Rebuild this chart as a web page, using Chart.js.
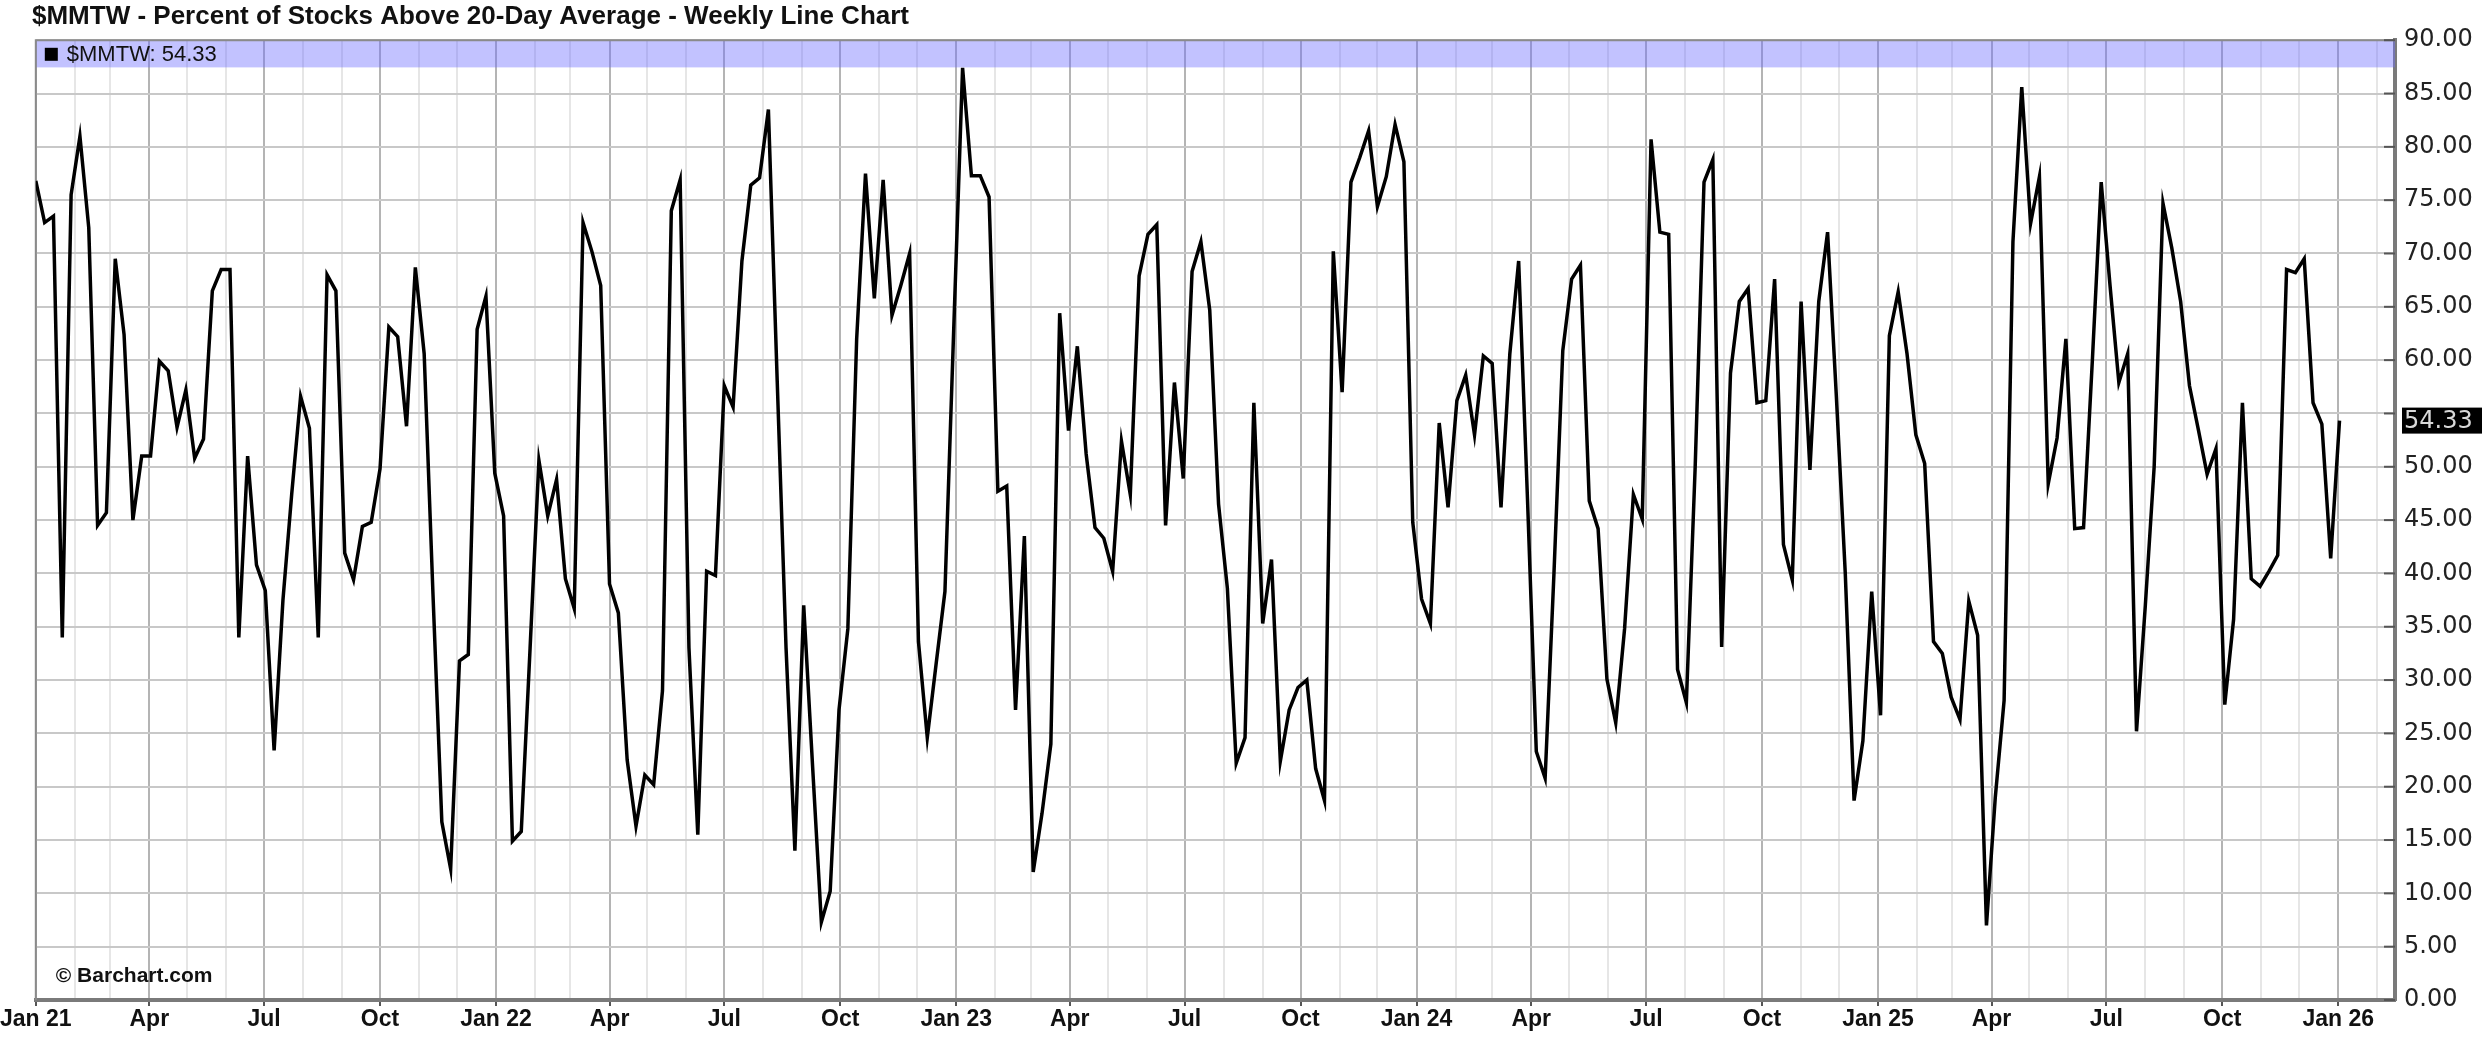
<!DOCTYPE html>
<html>
<head>
<meta charset="utf-8">
<title>$MMTW - Percent of Stocks Above 20-Day Average - Weekly Line Chart</title>
<script src="https://cdn.jsdelivr.net/npm/chart.js@4.4.1/dist/chart.umd.min.js"></script>
<style>
  html, body { margin: 0; padding: 0; background: #fff; }
  #wrap { width: 2485px; height: 1042px; }
</style>
</head>
<body>
<div id="wrap"><canvas id="chart_mmtw" width="2485" height="1042"></canvas></div>
<script>
// --- 1. Data (one value per Friday close) ---
const symbol = '$MMTW';
const chartTitle = '$MMTW - Percent of Stocks Above 20-Day Average - Weekly Line Chart';
const firstWeek = Date.UTC(2021, 0, 1); // first weekly bar

const pctAbove20 = [
  76.8, 72.9, 73.5, 34.0, 75.5, 81.0, 72.4, 44.5, 45.7, 69.5,
  62.4, 45.0, 51.0, 51.0, 59.9, 59.0, 53.7, 57.2, 50.8, 52.6,
  66.5, 68.5, 68.5, 34.0, 51.0, 40.8, 38.4, 23.4, 37.5, 47.5,
  56.6, 53.6, 34.0, 68.0, 66.5, 41.9, 39.4, 44.4, 44.8, 49.8,
  63.1, 62.2, 53.8, 68.7, 60.6, 38.0, 16.7, 12.3, 31.8, 32.4,
  62.9, 66.0, 49.4, 45.4, 14.9, 15.8, 33.0, 50.6, 45.4, 48.8,
  39.5, 36.7, 72.9, 70.2, 67.0, 39.0, 36.3, 22.5, 16.3, 21.1,
  20.2, 29.0, 74.0, 76.9, 33.0, 15.5, 40.2, 39.8, 57.6, 55.6,
  69.3, 76.4, 77.1, 83.5, 58.0, 33.0, 14.0, 37.0, 22.0, 7.3,
  10.2, 27.2, 34.8, 62.0, 77.5, 65.8, 76.9, 64.2, 67.0, 70.0,
  33.6, 24.6, 31.5, 38.3, 63.0, 87.4, 77.3, 77.3, 75.3, 47.7,
  48.2, 27.2, 43.5, 12.0, 17.5, 24.0, 64.4, 53.4, 61.3, 51.2,
  44.3, 43.3, 40.2, 52.4, 47.4, 67.9, 71.8, 72.7, 44.5, 57.9,
  48.9, 68.3, 71.1, 64.7, 46.5, 38.6, 22.2, 24.6, 56.0, 35.3,
  41.3, 22.4, 27.2, 29.3, 30.0, 21.7, 18.7, 70.2, 57.0, 76.7,
  79.0, 81.5, 74.4, 77.2, 82.1, 78.6, 44.8, 37.6, 35.3, 54.1,
  46.2, 56.2, 58.6, 53.0, 60.4, 59.7, 46.2, 60.6, 69.3, 47.0,
  23.3, 20.8, 40.0, 60.9, 67.6, 68.9, 46.8, 44.2, 30.1, 26.0,
  34.8, 47.4, 45.1, 80.7, 72.0, 71.8, 31.0, 27.9, 50.0, 76.7,
  78.8, 33.1, 58.8, 65.5, 66.7, 56.0, 56.2, 67.6, 42.7, 39.4,
  65.5, 49.7, 65.5, 72.0, 56.5, 40.1, 18.7, 24.3, 38.3, 26.7,
  62.3, 66.4, 60.6, 53.0, 50.3, 33.6, 32.5, 28.4, 26.3, 37.4,
  34.2, 7.0, 19.0, 28.1, 71.1, 85.6, 72.8, 77.2, 48.4, 52.7,
  62.0, 44.2, 44.3, 60.0, 76.7, 67.0, 57.9, 60.6, 25.2, 37.0,
  50.0, 74.7, 70.5, 65.5, 57.6, 53.5, 49.3, 51.7, 27.7, 35.7,
  56.0, 39.5, 38.8, 40.2, 41.7, 68.5, 68.2, 69.5, 56.0, 54.0,
  41.4, 54.33
];

// quarterly labels on the time axis, in order
const quarterLabels = [
  'Jan 21', 'Apr', 'Jul', 'Oct',
  'Jan 22', 'Apr', 'Jul', 'Oct',
  'Jan 23', 'Apr', 'Jul', 'Oct',
  'Jan 24', 'Apr', 'Jul', 'Oct',
  'Jan 25', 'Apr', 'Jul', 'Oct',
  'Jan 26'
];
const yMin = 0, yMax = 90, yStep = 5;

// --- 2. Axis helpers ---
const DAY = 86400000;
const lastValue = pctAbove20[pctAbove20.length - 1];
const xMax = (pctAbove20.length - 1) * 7 + 44; // a few weeks of empty space on the right

const monthTicks = [];
for (let yr = 2021; yr <= 2026; yr++) {
  for (let m = 0; m < 12; m++) {
    const d = (Date.UTC(yr, m, 1) - firstWeek) / DAY;
    if (d >= 0 && d <= xMax) monthTicks.push({ value: d, quarter: m % 3 === 0 });
  }
}
const tickLabel = new Map();
monthTicks.filter(t => t.quarter).forEach((t, i) => tickLabel.set(t.value, quarterLabels[i] || ''));
const isQuarter = v => tickLabel.has(v);

const sans = "'Liberation Sans', Arial, sans-serif";
const axisFont = "'DejaVu Sans', Verdana, sans-serif";

// --- 3. Extra drawing: legend band, frame, copyright, last value box ---
const chartDecor = {
  id: 'chartDecor',
  beforeDatasetsDraw(chart) {
    const { ctx, chartArea: a, scales: { y } } = chart;
    ctx.save();
    ctx.fillStyle = 'rgba(110, 110, 255, 0.42)';
    const yb = y.getPixelForValue(87.45);
    ctx.fillRect(a.left, a.top, a.right - a.left, yb - a.top);
    // thin frame top / left
    ctx.strokeStyle = '#8a8a8a';
    ctx.lineWidth = 2;
    ctx.beginPath();
    ctx.moveTo(a.left, a.bottom);
    ctx.lineTo(a.left, a.top);
    ctx.lineTo(a.right, a.top);
    ctx.stroke();
    // little inner ticks on the value axis
    ctx.strokeStyle = '#555';
    for (let v = yMin; v <= yMax; v += yStep) {
      const py = y.getPixelForValue(v);
      ctx.beginPath();
      ctx.moveTo(a.right - 11, py);
      ctx.lineTo(a.right, py);
      ctx.stroke();
    }
    ctx.restore();
  },
  afterDatasetsDraw(chart) {
    const { ctx, chartArea: a, scales: { y } } = chart;
    ctx.save();
    // legend
    const ly = (a.top + y.getPixelForValue(87.45)) / 2;
    ctx.fillStyle = '#000';
    ctx.fillRect(a.left + 9, ly - 6, 13, 13);
    ctx.fillStyle = '#111';
    ctx.font = '22px ' + sans;
    ctx.textBaseline = 'middle';
    ctx.fillText(symbol + ': ' + lastValue.toFixed(2), a.left + 31, ly + 1);
    // copyright
    ctx.font = 'bold 21px ' + sans;
    ctx.fillText('\u00A9 Barchart.com', a.left + 20, a.bottom - 24);
    ctx.restore();
  },
  afterDraw(chart) {
    const { ctx, chartArea: a, scales: { y } } = chart;
    const py = y.getPixelForValue(lastValue);
    ctx.save();
    ctx.fillStyle = '#000';
    ctx.fillRect(a.right + 7, py - 13, 80, 26);
    ctx.fillStyle = '#d8d8d8';
    ctx.font = '24px ' + axisFont;
    ctx.textBaseline = 'middle';
    ctx.fillText(lastValue.toFixed(2), a.right + 9, py + 1);
    ctx.restore();
  }
};

// --- 4. Chart ---
const ctx = document.getElementById('chart_mmtw').getContext('2d');
new Chart(ctx, {
  type: 'line',
  data: {
    datasets: [{
      label: symbol,
      data: pctAbove20.map((v, i) => ({ x: i * 7, y: v })),
      borderColor: '#000',
      borderWidth: 3.5,
      pointRadius: 0,
      tension: 0,
      fill: false
    }]
  },
  options: {
    responsive: false,
    devicePixelRatio: 1,
    animation: false,
    layout: { padding: { left: 32, right: 0, top: 0, bottom: 0 } },
    scales: {
      x: {
        type: 'linear',
        min: 0,
        max: xMax,
        afterBuildTicks: s => { s.ticks = monthTicks.map(t => ({ value: t.value })); },
        afterFit: s => { s.height = 42; },
        ticks: {
          autoSkip: false,
          maxRotation: 0,
          padding: 0,
          color: '#111',
          font: { family: sans, size: 23, weight: 'bold' },
          callback: v => tickLabel.get(v) || ''
        },
        grid: {
          lineWidth: 2,
          tickLength: 6,
          color: c => (c.tick && isQuarter(c.tick.value)) ? '#b4b4b4' : '#e6e6e6',
          tickColor: c => (c.tick && isQuarter(c.tick.value)) ? '#555' : 'rgba(0,0,0,0)'
        },
        border: { color: '#7a7a7a', width: 4 }
      },
      y: {
        position: 'right',
        min: yMin,
        max: yMax,
        afterFit: s => { s.width = 90; },
        ticks: {
          stepSize: yStep,
          padding: 9,
          color: '#222',
          font: { family: axisFont, size: 24 },
          callback: v => Math.abs(v - lastValue) < 2.5 ? '' : v.toFixed(2)
        },
        grid: { color: '#c8c8c8', lineWidth: 2, drawTicks: false },
        border: { color: '#7a7a7a', width: 4 }
      }
    },
    plugins: {
      legend: { display: false },
      tooltip: { enabled: false },
      title: {
        display: true,
        text: chartTitle,
        align: 'start',
        color: '#111',
        font: { family: sans, size: 26, weight: 'bold' },
        padding: { top: 1, bottom: 8 }
      }
    }
  },
  plugins: [chartDecor]
});
</script>
</body>
</html>
